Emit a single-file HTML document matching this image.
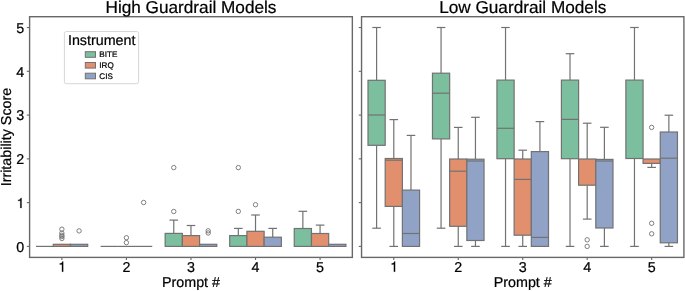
<!DOCTYPE html>
<html><head><meta charset="utf-8"><style>
html,body{margin:0;padding:0;background:#fff;}
body{width:685px;height:291px;overflow:hidden;font-family:"Liberation Sans",sans-serif;}
svg{display:block;will-change:transform;}
</style></head><body>
<svg width="685" height="291" viewBox="0 0 685 291" font-family="Liberation Sans, sans-serif" fill="#000" text-rendering="geometricPrecision">
<style>text{stroke:#000;stroke-width:0.22px;}</style>
<g stroke="#727272" stroke-width="1.2" fill="none">
<rect x="36.05" y="246.4" width="17.21" height="0" fill="#7bbf9f"/>
<line x1="36.05" y1="246.4" x2="53.27" y2="246.4"/>
<rect x="53.27" y="244.3" width="17.21" height="2.1" fill="#e28f6e"/>
<circle cx="61.88" cy="229.2" r="2.2" fill="none" stroke-width="0.9"/>
<circle cx="61.88" cy="233.1" r="2.2" fill="none" stroke-width="0.9"/>
<circle cx="61.88" cy="235.3" r="2.2" fill="none" stroke-width="0.9"/>
<circle cx="61.88" cy="236.6" r="2.2" fill="none" stroke-width="0.9"/>
<circle cx="61.88" cy="238.5" r="2.2" fill="none" stroke-width="0.9"/>
<rect x="70.48" y="244.3" width="17.21" height="2.1" fill="#91a2c7"/>
<circle cx="79.09" cy="230.9" r="2.2" fill="none" stroke-width="0.9"/>
<rect x="100.6" y="246.4" width="17.21" height="0" fill="#7bbf9f"/>
<line x1="100.6" y1="246.4" x2="117.82" y2="246.4"/>
<rect x="117.82" y="246.4" width="17.21" height="0" fill="#e28f6e"/>
<line x1="117.82" y1="246.4" x2="135.03" y2="246.4"/>
<circle cx="126.42" cy="237.7" r="2.2" fill="none" stroke-width="0.9"/>
<circle cx="126.42" cy="242.6" r="2.2" fill="none" stroke-width="0.9"/>
<rect x="135.03" y="246.4" width="17.21" height="0" fill="#91a2c7"/>
<line x1="135.03" y1="246.4" x2="152.24" y2="246.4"/>
<circle cx="143.64" cy="202.5" r="2.2" fill="none" stroke-width="0.9"/>
<line x1="173.76" y1="220.1" x2="173.76" y2="233.4"/>
<line x1="169.46" y1="220.1" x2="178.06" y2="220.1"/>
<rect x="165.16" y="233.4" width="17.21" height="13" fill="#7bbf9f"/>
<circle cx="173.76" cy="167.6" r="2.2" fill="none" stroke-width="0.9"/>
<circle cx="173.76" cy="211.5" r="2.2" fill="none" stroke-width="0.9"/>
<line x1="190.97" y1="225.5" x2="190.97" y2="235.6"/>
<line x1="186.67" y1="225.5" x2="195.28" y2="225.5"/>
<rect x="182.37" y="235.6" width="17.21" height="10.8" fill="#e28f6e"/>
<rect x="199.58" y="244.3" width="17.21" height="2.1" fill="#91a2c7"/>
<circle cx="208.19" cy="230.8" r="2.2" fill="none" stroke-width="0.9"/>
<circle cx="208.19" cy="233" r="2.2" fill="none" stroke-width="0.9"/>
<line x1="238.31" y1="228.4" x2="238.31" y2="235.6"/>
<line x1="234.01" y1="228.4" x2="242.61" y2="228.4"/>
<rect x="229.7" y="235.6" width="17.21" height="10.8" fill="#7bbf9f"/>
<circle cx="238.31" cy="167.6" r="2.2" fill="none" stroke-width="0.9"/>
<circle cx="238.31" cy="211.4" r="2.2" fill="none" stroke-width="0.9"/>
<line x1="255.52" y1="215" x2="255.52" y2="231.3"/>
<line x1="251.22" y1="215" x2="259.83" y2="215"/>
<rect x="246.92" y="231.3" width="17.21" height="15.1" fill="#e28f6e"/>
<circle cx="255.52" cy="204.7" r="2.2" fill="none" stroke-width="0.9"/>
<line x1="272.74" y1="228.4" x2="272.74" y2="237.2"/>
<line x1="268.43" y1="228.4" x2="277.04" y2="228.4"/>
<rect x="264.13" y="237.2" width="17.21" height="9.2" fill="#91a2c7"/>
<line x1="302.86" y1="211.3" x2="302.86" y2="228.5"/>
<line x1="298.56" y1="211.3" x2="307.17" y2="211.3"/>
<rect x="294.25" y="228.5" width="17.21" height="17.9" fill="#7bbf9f"/>
<line x1="320.07" y1="225.1" x2="320.07" y2="233.5"/>
<line x1="315.77" y1="225.1" x2="324.38" y2="225.1"/>
<rect x="311.47" y="233.5" width="17.21" height="12.9" fill="#e28f6e"/>
<rect x="328.68" y="244.3" width="17.21" height="2.1" fill="#91a2c7"/>
<line x1="376.59" y1="27.5" x2="376.59" y2="80.3"/>
<line x1="376.59" y1="145.3" x2="376.59" y2="228.2"/>
<line x1="372.3" y1="27.5" x2="380.89" y2="27.5"/>
<line x1="372.3" y1="228.2" x2="380.89" y2="228.2"/>
<rect x="368" y="80.3" width="17.19" height="65" fill="#7bbf9f"/>
<line x1="368" y1="115" x2="385.19" y2="115"/>
<line x1="393.79" y1="119.6" x2="393.79" y2="158.5"/>
<line x1="393.79" y1="206.4" x2="393.79" y2="246.4"/>
<line x1="389.49" y1="119.6" x2="398.08" y2="119.6"/>
<line x1="389.49" y1="246.4" x2="398.08" y2="246.4"/>
<rect x="385.19" y="158.5" width="17.19" height="47.9" fill="#e28f6e"/>
<line x1="385.19" y1="160.2" x2="402.38" y2="160.2"/>
<line x1="410.98" y1="135.4" x2="410.98" y2="190.1"/>
<line x1="406.68" y1="135.4" x2="415.28" y2="135.4"/>
<rect x="402.38" y="190.1" width="17.19" height="56.3" fill="#91a2c7"/>
<line x1="402.38" y1="233.5" x2="419.57" y2="233.5"/>
<line x1="441.06" y1="27.5" x2="441.06" y2="73.2"/>
<line x1="441.06" y1="138.9" x2="441.06" y2="228.2"/>
<line x1="436.76" y1="27.5" x2="445.36" y2="27.5"/>
<line x1="436.76" y1="228.2" x2="445.36" y2="228.2"/>
<rect x="432.47" y="73.2" width="17.19" height="65.7" fill="#7bbf9f"/>
<line x1="432.47" y1="93.2" x2="449.66" y2="93.2"/>
<line x1="458.25" y1="127.4" x2="458.25" y2="159"/>
<line x1="458.25" y1="226.3" x2="458.25" y2="246.4"/>
<line x1="453.96" y1="127.4" x2="462.55" y2="127.4"/>
<line x1="453.96" y1="246.4" x2="462.55" y2="246.4"/>
<rect x="449.66" y="159" width="17.19" height="67.3" fill="#e28f6e"/>
<line x1="449.66" y1="171.2" x2="466.85" y2="171.2"/>
<line x1="475.45" y1="117.3" x2="475.45" y2="159.2"/>
<line x1="475.45" y1="240.5" x2="475.45" y2="246.4"/>
<line x1="471.15" y1="117.3" x2="479.75" y2="117.3"/>
<line x1="471.15" y1="246.4" x2="479.75" y2="246.4"/>
<rect x="466.85" y="159.2" width="17.19" height="81.3" fill="#91a2c7"/>
<line x1="466.85" y1="161" x2="484.04" y2="161"/>
<line x1="505.53" y1="27.5" x2="505.53" y2="80.1"/>
<line x1="505.53" y1="158.7" x2="505.53" y2="246.4"/>
<line x1="501.24" y1="27.5" x2="509.83" y2="27.5"/>
<line x1="501.24" y1="246.4" x2="509.83" y2="246.4"/>
<rect x="496.94" y="80.1" width="17.19" height="78.6" fill="#7bbf9f"/>
<line x1="496.94" y1="128.3" x2="514.13" y2="128.3"/>
<line x1="522.73" y1="150.2" x2="522.73" y2="159"/>
<line x1="522.73" y1="235.2" x2="522.73" y2="246.4"/>
<line x1="518.43" y1="150.2" x2="527.02" y2="150.2"/>
<line x1="518.43" y1="246.4" x2="527.02" y2="246.4"/>
<rect x="514.13" y="159" width="17.19" height="76.2" fill="#e28f6e"/>
<line x1="514.13" y1="179.4" x2="531.32" y2="179.4"/>
<line x1="539.92" y1="121.6" x2="539.92" y2="151.6"/>
<line x1="535.62" y1="121.6" x2="544.22" y2="121.6"/>
<rect x="531.32" y="151.6" width="17.19" height="94.8" fill="#91a2c7"/>
<line x1="531.32" y1="237.4" x2="548.51" y2="237.4"/>
<line x1="570" y1="53.7" x2="570" y2="80.1"/>
<line x1="570" y1="158.7" x2="570" y2="246.4"/>
<line x1="565.7" y1="53.7" x2="574.3" y2="53.7"/>
<line x1="565.7" y1="246.4" x2="574.3" y2="246.4"/>
<rect x="561.41" y="80.1" width="17.19" height="78.6" fill="#7bbf9f"/>
<line x1="561.41" y1="119.4" x2="578.6" y2="119.4"/>
<line x1="587.19" y1="123.2" x2="587.19" y2="159"/>
<line x1="587.19" y1="185.2" x2="587.19" y2="219.1"/>
<line x1="582.9" y1="123.2" x2="591.49" y2="123.2"/>
<line x1="582.9" y1="219.1" x2="591.49" y2="219.1"/>
<rect x="578.6" y="159" width="17.19" height="26.2" fill="#e28f6e"/>
<circle cx="587.19" cy="239.8" r="2.2" fill="none" stroke-width="0.9"/>
<circle cx="587.19" cy="246.4" r="2.2" fill="none" stroke-width="0.9"/>
<line x1="604.39" y1="127.3" x2="604.39" y2="159.4"/>
<line x1="604.39" y1="228" x2="604.39" y2="246.4"/>
<line x1="600.09" y1="127.3" x2="608.68" y2="127.3"/>
<line x1="600.09" y1="246.4" x2="608.68" y2="246.4"/>
<rect x="595.79" y="159.4" width="17.19" height="68.6" fill="#91a2c7"/>
<line x1="595.79" y1="161" x2="612.98" y2="161"/>
<line x1="634.47" y1="27.5" x2="634.47" y2="80.1"/>
<line x1="634.47" y1="158.5" x2="634.47" y2="246.4"/>
<line x1="630.17" y1="27.5" x2="638.77" y2="27.5"/>
<line x1="630.17" y1="246.4" x2="638.77" y2="246.4"/>
<rect x="625.88" y="80.1" width="17.19" height="78.4" fill="#7bbf9f"/>
<line x1="651.66" y1="163.4" x2="651.66" y2="167.4"/>
<line x1="647.37" y1="167.4" x2="655.96" y2="167.4"/>
<rect x="643.07" y="159" width="17.19" height="4.4" fill="#e28f6e"/>
<circle cx="651.66" cy="127.4" r="2.2" fill="none" stroke-width="0.9"/>
<circle cx="651.66" cy="223.3" r="2.2" fill="none" stroke-width="0.9"/>
<circle cx="651.66" cy="233.8" r="2.2" fill="none" stroke-width="0.9"/>
<line x1="668.86" y1="115.2" x2="668.86" y2="132"/>
<line x1="668.86" y1="242.8" x2="668.86" y2="246.4"/>
<line x1="664.56" y1="115.2" x2="673.15" y2="115.2"/>
<line x1="664.56" y1="246.4" x2="673.15" y2="246.4"/>
<rect x="660.26" y="132" width="17.19" height="110.8" fill="#91a2c7"/>
<line x1="660.26" y1="158.2" x2="677.45" y2="158.2"/>
</g>
<rect x="29.6" y="16.7" width="322.75" height="240.7" fill="none" stroke="#686868" stroke-width="1.4"/>
<line x1="61.88" y1="257.4" x2="61.88" y2="260" stroke="#686868" stroke-width="1.1"/>
<path transform="translate(58.25,271.7) scale(0.01430,-0.01430)" d="M259 505H102V568Q204 581 235 604Q266 627 289 709H347V0H259Z" stroke="#000" stroke-width="15.4"/>
<line x1="126.42" y1="257.4" x2="126.42" y2="260" stroke="#686868" stroke-width="1.1"/>
<text x="126.42" y="271.7" text-anchor="middle" font-size="14.3">2</text>
<line x1="190.97" y1="257.4" x2="190.97" y2="260" stroke="#686868" stroke-width="1.1"/>
<text x="190.97" y="271.7" text-anchor="middle" font-size="14.3">3</text>
<line x1="255.52" y1="257.4" x2="255.52" y2="260" stroke="#686868" stroke-width="1.1"/>
<text x="255.52" y="271.7" text-anchor="middle" font-size="14.3">4</text>
<line x1="320.07" y1="257.4" x2="320.07" y2="260" stroke="#686868" stroke-width="1.1"/>
<text x="320.07" y="271.7" text-anchor="middle" font-size="14.3">5</text>
<line x1="26.8" y1="246.4" x2="29.6" y2="246.4" stroke="#686868" stroke-width="1.1"/>
<text x="24.2" y="251.8" text-anchor="end" font-size="14.3">0</text>
<line x1="26.8" y1="202.63" x2="29.6" y2="202.63" stroke="#686868" stroke-width="1.1"/>
<path transform="translate(16.6,208.03) scale(0.01430,-0.01430)" d="M259 505H102V568Q204 581 235 604Q266 627 289 709H347V0H259Z" stroke="#000" stroke-width="15.4"/>
<line x1="26.8" y1="158.86" x2="29.6" y2="158.86" stroke="#686868" stroke-width="1.1"/>
<text x="24.2" y="164.26" text-anchor="end" font-size="14.3">2</text>
<line x1="26.8" y1="115.09" x2="29.6" y2="115.09" stroke="#686868" stroke-width="1.1"/>
<text x="24.2" y="120.49" text-anchor="end" font-size="14.3">3</text>
<line x1="26.8" y1="71.32" x2="29.6" y2="71.32" stroke="#686868" stroke-width="1.1"/>
<text x="24.2" y="76.72" text-anchor="end" font-size="14.3">4</text>
<line x1="26.8" y1="27.55" x2="29.6" y2="27.55" stroke="#686868" stroke-width="1.1"/>
<text x="24.2" y="32.95" text-anchor="end" font-size="14.3">5</text>
<text x="190.98" y="287.1" text-anchor="middle" font-size="14.3">Prompt #</text>
<rect x="361.55" y="16.7" width="322.35" height="240.7" fill="none" stroke="#686868" stroke-width="1.4"/>
<line x1="393.79" y1="257.4" x2="393.79" y2="260" stroke="#686868" stroke-width="1.1"/>
<path transform="translate(390.16,271.7) scale(0.01430,-0.01430)" d="M259 505H102V568Q204 581 235 604Q266 627 289 709H347V0H259Z" stroke="#000" stroke-width="15.4"/>
<line x1="458.25" y1="257.4" x2="458.25" y2="260" stroke="#686868" stroke-width="1.1"/>
<text x="458.25" y="271.7" text-anchor="middle" font-size="14.3">2</text>
<line x1="522.73" y1="257.4" x2="522.73" y2="260" stroke="#686868" stroke-width="1.1"/>
<text x="522.73" y="271.7" text-anchor="middle" font-size="14.3">3</text>
<line x1="587.19" y1="257.4" x2="587.19" y2="260" stroke="#686868" stroke-width="1.1"/>
<text x="587.19" y="271.7" text-anchor="middle" font-size="14.3">4</text>
<line x1="651.66" y1="257.4" x2="651.66" y2="260" stroke="#686868" stroke-width="1.1"/>
<text x="651.66" y="271.7" text-anchor="middle" font-size="14.3">5</text>
<line x1="358.75" y1="246.4" x2="361.55" y2="246.4" stroke="#686868" stroke-width="1.1"/>
<line x1="358.75" y1="202.63" x2="361.55" y2="202.63" stroke="#686868" stroke-width="1.1"/>
<line x1="358.75" y1="158.86" x2="361.55" y2="158.86" stroke="#686868" stroke-width="1.1"/>
<line x1="358.75" y1="115.09" x2="361.55" y2="115.09" stroke="#686868" stroke-width="1.1"/>
<line x1="358.75" y1="71.32" x2="361.55" y2="71.32" stroke="#686868" stroke-width="1.1"/>
<line x1="358.75" y1="27.55" x2="361.55" y2="27.55" stroke="#686868" stroke-width="1.1"/>
<text x="522.73" y="287.1" text-anchor="middle" font-size="14.3">Prompt #</text>
<text x="190.98" y="12.7" text-anchor="middle" font-size="17.2">High Guardrail Models</text>
<text x="522.73" y="12.7" text-anchor="middle" font-size="17.2">Low Guardrail Models</text>
<text transform="translate(10.8,137.05) rotate(-90)" text-anchor="middle" font-size="14.3">Irritability Score</text>

<rect x="64.4" y="31.5" width="74.2" height="52.2" rx="2" ry="2" fill="#fff" fill-opacity="0.8" stroke="#d6d6d6" stroke-width="1"/>
<text x="101.7" y="45" text-anchor="middle" font-size="14.3">Instrument</text>
<rect x="85.3" y="51.7" width="10.2" height="5.6" fill="#7bbf9f" stroke="#727272" stroke-width="1"/>
<rect x="85.3" y="62.5" width="10.2" height="5.6" fill="#e28f6e" stroke="#727272" stroke-width="1"/>
<rect x="85.3" y="73.2" width="10.2" height="5.6" fill="#91a2c7" stroke="#727272" stroke-width="1"/>
<text x="99.3" y="57.3" font-size="8.1">BITE</text>
<text x="99.3" y="68.0" font-size="8.1">IRQ</text>
<text x="99.3" y="78.7" font-size="8.1">CIS</text>

</svg>
</body></html>
